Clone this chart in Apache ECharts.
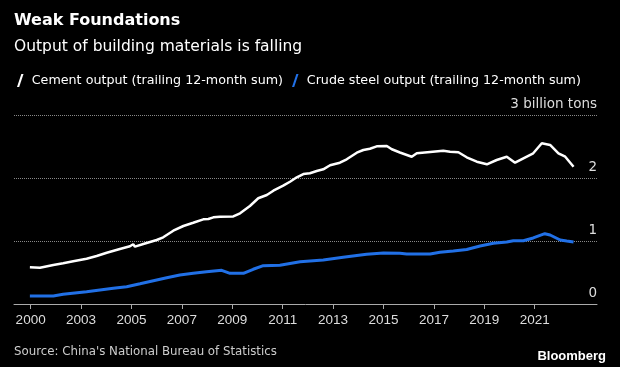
<!DOCTYPE html>
<html>
<head>
<meta charset="utf-8">
<script src="https://cdn.jsdelivr.net/npm/echarts@6/dist/echarts.min.js"></script>
<style>
html,body{margin:0;padding:0;background:#000;}
#chart{width:620px;height:367px;}
</style>
</head>
<body>
<div id="chart"></div>
<script>
// Data (values in billion tons, x in fractional years)
const cementYears = [2000.97,2001.37,2001.90,2002.29,2002.69,2003.22,2003.62,2004.02,2004.54,2004.94,2005.07,2005.14,2005.47,2006.00,2006.26,2006.66,2007.06,2007.45,2007.85,2008.05,2008.12,2008.25,2008.51,2009.04,2009.31,2009.70,2010.03,2010.37,2010.63,2011.02,2011.29,2011.56,2011.82,2012.08,2012.35,2012.61,2012.88,2013.27,2013.54,2013.94,2014.20,2014.46,2014.73,2015.13,2015.33,2015.65,2016.12,2016.32,2016.85,2017.37,2017.64,2017.97,2018.30,2018.70,2019.10,2019.49,2019.89,2019.95,2020.22,2020.55,2020.94,2021.28,2021.61,2021.94,2022.21,2022.54];
const cementValues = [0.583,0.576,0.619,0.646,0.678,0.719,0.762,0.814,0.873,0.916,0.948,0.910,0.952,1.016,1.059,1.163,1.238,1.290,1.344,1.349,1.333,1.376,1.386,1.389,1.440,1.556,1.678,1.730,1.798,1.878,1.941,2.011,2.063,2.075,2.111,2.138,2.202,2.243,2.297,2.402,2.444,2.465,2.503,2.508,2.456,2.405,2.338,2.392,2.413,2.433,2.417,2.408,2.329,2.259,2.217,2.286,2.338,2.354,2.243,2.313,2.392,2.551,2.524,2.392,2.338,2.179];
const steelYears = [2000.97,2001.90,2002.29,2003.22,2003.75,2004.28,2004.81,2005.34,2005.87,2006.40,2006.92,2007.45,2007.98,2008.58,2008.91,2009.44,2009.83,2010.23,2010.89,2011.69,2012.61,2013.40,2014.33,2015.00,2015.65,2015.92,2016.85,2017.24,2017.77,2018.30,2018.83,2019.36,2019.89,2020.15,2020.55,2020.94,2021.21,2021.40,2021.61,2022.01,2022.27,2022.54];
const steelValues = [0.127,0.127,0.154,0.195,0.222,0.249,0.275,0.322,0.370,0.417,0.460,0.487,0.513,0.535,0.487,0.487,0.551,0.608,0.614,0.671,0.698,0.741,0.789,0.810,0.805,0.794,0.794,0.821,0.841,0.865,0.921,0.963,0.984,1.005,1.005,1.048,1.090,1.116,1.095,1.016,1.000,0.984];
const tickPositions = [2001,2003,2005,2007,2009,2011,2013,2015,2017,2019,2021];
const tickLabels = ['2000','2003','2005','2007','2009','2011','2013','2015','2017','2019','2021'];
const seriesNames = ['Cement output (trailing 12-month sum)','Crude steel output (trailing 12-month sum)'];

const FONT = 'DejaVu Sans';
const FONT2 = 'Liberation Sans';
const BLUE = '#2170e6';
const cementData = cementYears.map((x,i)=>[x,cementValues[i]]);
const steelData = steelYears.map((x,i)=>[x,steelValues[i]]);
const slash = 'path://M0,12L4,0L6,0L2,12Z';

const chart = echarts.init(document.getElementById('chart'), null, {renderer:'canvas'});
chart.setOption({
  backgroundColor:'#000',
  animation:false,
  title:[
    {text:'Weak Foundations', subtext:'Output of building materials is falling', left:9, top:8,
     textStyle:{color:'#fff',fontFamily:FONT,fontSize:16,fontWeight:'bold'},
     subtextStyle:{color:'#fff',fontFamily:FONT,fontSize:15.5}, itemGap:10},
    {text:"Source: China's National Bureau of Statistics", left:9, top:341,
     textStyle:{color:'#ccc',fontFamily:FONT,fontSize:11.8,fontWeight:'normal'}},
    {text:'Bloomberg', right:9, top:345,
     textStyle:{color:'#fff',fontFamily:FONT2,fontSize:13,fontWeight:'bold'}}
  ],
  legend:{
    left:12, top:69, width:608, itemWidth:9, itemHeight:13, itemGap:9,
    textStyle:{color:'#fff',fontFamily:FONT,fontSize:12.7,padding:[0,0,0,2]},
    data:[{name:seriesNames[0],icon:slash,itemStyle:{color:'#fff'}},
          {name:seriesNames[1],icon:slash,itemStyle:{color:BLUE}}]
  },
  grid:{left:14,right:23,top:115,bottom:63,containLabel:false},
  xAxis:{
    type:'value', min:2000.34, max:2023.47,
    splitLine:{show:false},
    axisLine:{show:true,lineStyle:{color:'#aaa',width:1}},
    axisTick:{show:true,length:5,lineStyle:{color:'#aaa'},customValues:tickPositions},
    axisLabel:{color:'#ddd',fontFamily:FONT2,fontSize:13.5,margin:9,customValues:tickPositions,
      formatter:v=>{const i=tickPositions.indexOf(v);return i>=0?tickLabels[i]:'';}}
  },
  yAxis:{
    type:'value', position:'right', min:0, max:3, interval:1,
    axisLine:{show:false}, axisTick:{show:false},
    splitLine:{show:true,lineStyle:{color:'#888',type:'dotted',width:1}},
    axisLabel:{inside:true,margin:0,color:'#ddd',fontFamily:FONT,fontSize:13.5,
      verticalAlign:'bottom',align:'right',padding:[0,0,4,0],
      formatter:v=>v===3?'3 billion tons':String(v)}
  },
  series:[
    {name:seriesNames[0],type:'line',data:cementData,showSymbol:false,symbol:'none',
     lineStyle:{color:'#fff',width:2.5},itemStyle:{color:'#fff'},z:3},
    {name:seriesNames[1],type:'line',data:steelData,showSymbol:false,symbol:'none',
     lineStyle:{color:BLUE,width:3},itemStyle:{color:BLUE},z:2}
  ]
});
</script>
</body>
</html>
